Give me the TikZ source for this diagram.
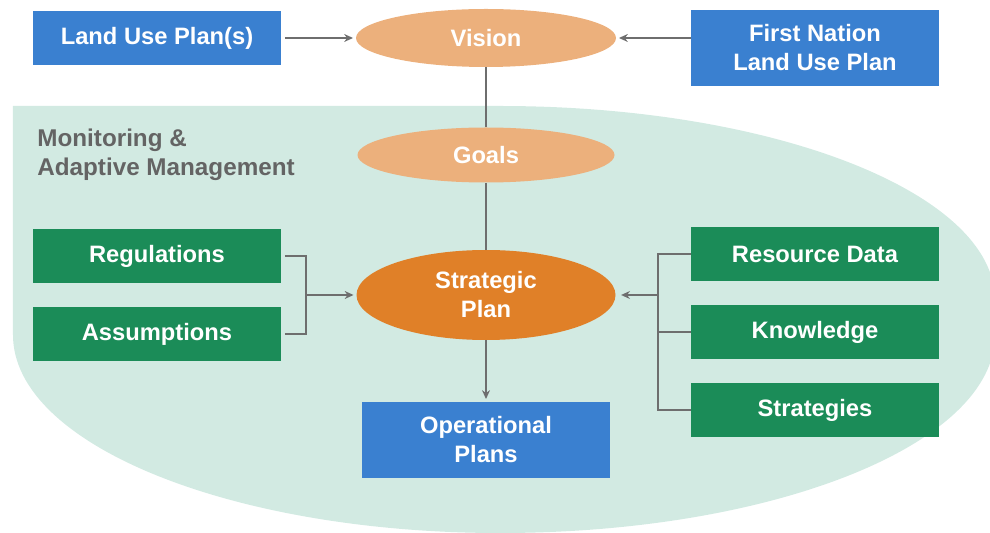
\documentclass[tikz,border=0pt]{standalone}
\usepackage{fontspec}
\setmainfont{Liberation Sans}
\usetikzlibrary{positioning,arrows.meta,shapes.geometric}
\definecolor{planblue}{RGB}{58,128,208}
\definecolor{plangreen}{RGB}{27,140,88}
\definecolor{lightorange}{RGB}{236,176,124}
\definecolor{darkorange}{RGB}{224,128,40}
\definecolor{mintbg}{RGB}{210,234,226}
\definecolor{labelgray}{RGB}{100,100,100}
\definecolor{linegray}{RGB}{110,110,110}

\begin{document}
\begin{tikzpicture}[
    box/.style={rectangle, minimum width=4.96cm, minimum height=1.08cm, inner sep=0pt,
        text=white, align=center, font=\bfseries\fontsize{13.5}{16.5}\selectfont},
    bluebox/.style={box, fill=planblue},
    greenbox/.style={box, fill=plangreen},
    oval/.style={ellipse, inner sep=0pt, text=white, align=center,
        font=\bfseries\fontsize{13.5}{16.5}\selectfont},
    link/.style={draw=linegray, line width=0.8pt},
    arrow/.style={link, -{Stealth[length=5pt,width=4.5pt]}, shorten >=1.5pt}
]
    \useasboundingbox (0,0) rectangle (19.8,-10.66);

    % Monitoring region (square top-left corner, rounded everywhere else)
    \fill[mintbg] (0.26,-2.12) -- (10,-2.12)
        arc[start angle=90, end angle=0, x radius=9.9, y radius=3.88]
        -- (19.9,-6.7)
        arc[start angle=0, end angle=-90, x radius=9.9, y radius=3.96]
        arc[start angle=270, end angle=180, x radius=9.74, y radius=3.96]
        -- cycle;
    \node[anchor=north west, inner sep=0pt, align=left, text=labelgray,
        font=\bfseries\fontsize{13.8}{16}\selectfont] (monitoring) at (0.74,-2.58)
        {Monitoring \&\\Adaptive Management};

    % Top row: inputs to the vision
    \node[bluebox] (landuse) at (3.14,-0.76) {Land Use Plan(s)};
    \node[oval, fill=lightorange, minimum width=5.2cm, minimum height=1.16cm] (vision) at (9.72,-0.76) {Vision};
    \node[bluebox, minimum height=1.52cm] (firstnation) at (16.3,-0.96) {First Nation\\Land Use Plan};

    % Centre column
    \node[oval, fill=lightorange, minimum width=5.14cm, minimum height=1.1cm] (goals) at (9.72,-3.1) {Goals};
    \node[oval, fill=darkorange, minimum width=5.18cm, minimum height=1.8cm] (strategic) at (9.72,-5.9) {Strategic\\Plan};
    \node[bluebox, minimum height=1.52cm] (operational) at (9.72,-8.8) {Operational\\Plans};

    % Left inputs
    \node[greenbox] (regulations) at (3.14,-5.12) {Regulations};
    \node[greenbox] (assumptions) at (3.14,-6.68) {Assumptions};

    % Right inputs
    \node[greenbox] (resource) at (16.3,-5.08) {Resource Data};
    \node[greenbox] (knowledge) at (16.3,-6.64) {Knowledge};
    \node[greenbox] (strategies) at (16.3,-8.2) {Strategies};

    % Connectors
    \draw[arrow, shorten <=2pt] (landuse) -- (vision);
    \draw[arrow] (firstnation.west |- vision) -- (vision);
    \draw[link] (vision) -- (goals);
    \draw[link] (goals) -- (strategic);
    \draw[arrow] (strategic) -- (operational);

    \coordinate (lbus) at (6.12,-5.9);
    \draw[link, shorten <=2pt] (regulations.east) -| (lbus);
    \draw[link, shorten <=2pt] (assumptions.east) -| (lbus);
    \draw[arrow] (lbus) -- (strategic);

    \coordinate (rbus) at (13.16,-5.9);
    \draw[link] (resource.west) -| (rbus);
    \draw[link] (strategies.west) -| (rbus);
    \draw[link] (knowledge.west) -- (knowledge.west -| rbus);
    \draw[arrow, shorten >=3pt] (rbus) -- (strategic);
\end{tikzpicture}
\end{document}
